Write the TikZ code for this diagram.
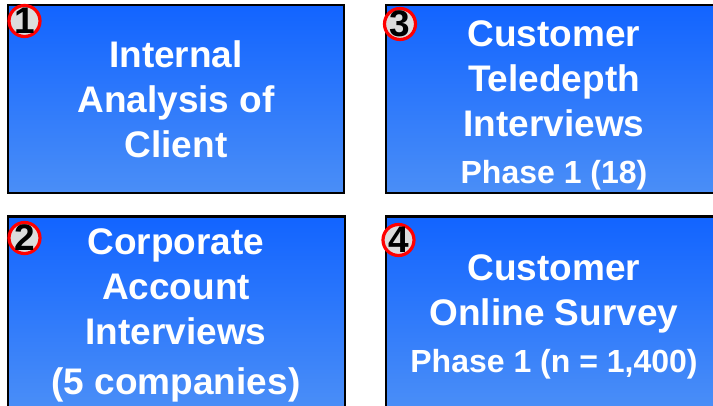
\documentclass[tikz,border=0pt]{standalone}
\usepackage{fontspec}
\setmainfont{Liberation Sans}
\definecolor{panelTop}{RGB}{18,100,255}
\definecolor{panelBottom}{RGB}{74,142,247}
\definecolor{badgeFill}{RGB}{220,220,220}
\definecolor{badgeRing}{RGB}{255,0,0}
\begin{document}
\begin{tikzpicture}[x=1pt,y=-1pt,
  panel/.style={draw=black,line width=2.5pt,rectangle,inner sep=0pt,
    top color=panelTop,bottom color=panelBottom},
  headline/.style={anchor=base,text=white,inner sep=0pt,
    font=\bfseries\fontsize{37}{43}\selectfont},
  subline/.style={anchor=base,text=white,inner sep=0pt,
    font=\bfseries\fontsize{32}{38}\selectfont},
  badge/.style={circle,draw=badgeRing,fill=badgeFill,line width=3.2pt,
    minimum size=31pt,inner sep=0pt},
  badgenum/.style={text=black,inner sep=0pt,
    font=\bfseries\fontsize{37}{40}\selectfont}]
\useasboundingbox (0,0) rectangle (713,405);
\clip (0,0) rectangle (713,405);

% panels
\node[panel,minimum width=336pt,minimum height=188pt] (boxA) at (176,99) {};
\node[panel,minimum width=336pt,minimum height=188pt] (boxC) at (554,99) {};
\node[panel,minimum width=337pt,minimum height=191.5pt] (boxB) at (176.5,312.25) {};
\node[panel,minimum width=336pt,minimum height=191.5pt] (boxD) at (554,312.25) {};

% panel 1
\node[headline] (a1) at (176,67) {Internal};
\node[headline] (a2) at (176,112) {Analysis of};
\node[headline] (a3) at (176,157) {Client};

% panel 3
\node[headline] (c1) at (554,46) {Customer};
\node[headline] (c2) at (554,91) {Teledepth};
\node[headline] (c3) at (554,136) {Interviews};
\node[subline] (c4) at (554,183) {Phase 1 (18)};

% panel 2
\node[headline] (b1) at (176,254) {Corporate};
\node[headline] (b2) at (176,299) {Account};
\node[headline] (b3) at (176,344) {Interviews};
\node[headline] (b4) at (176,394) {(5 companies)};

% panel 4
\node[headline] (d1) at (554,280) {Customer};
\node[headline] (d2) at (554,325) {Online Survey};
\node[subline] (d3) at (554,372) {Phase 1 (n = 1,400)};

% numbered badges
\node[badge] (n1) at (24.5,21) {};
\node[badgenum] at (n1.center) {1};
\node[badge] (n3) at (400,24) {};
\node[badgenum] at (n3.center) {3};
\node[badge] (n2) at (24.5,238) {};
\node[badgenum] at (n2.center) {2};
\node[badge] (n4) at (398.5,240) {};
\node[badgenum] at (n4.center) {4};
\end{tikzpicture}
\end{document}
